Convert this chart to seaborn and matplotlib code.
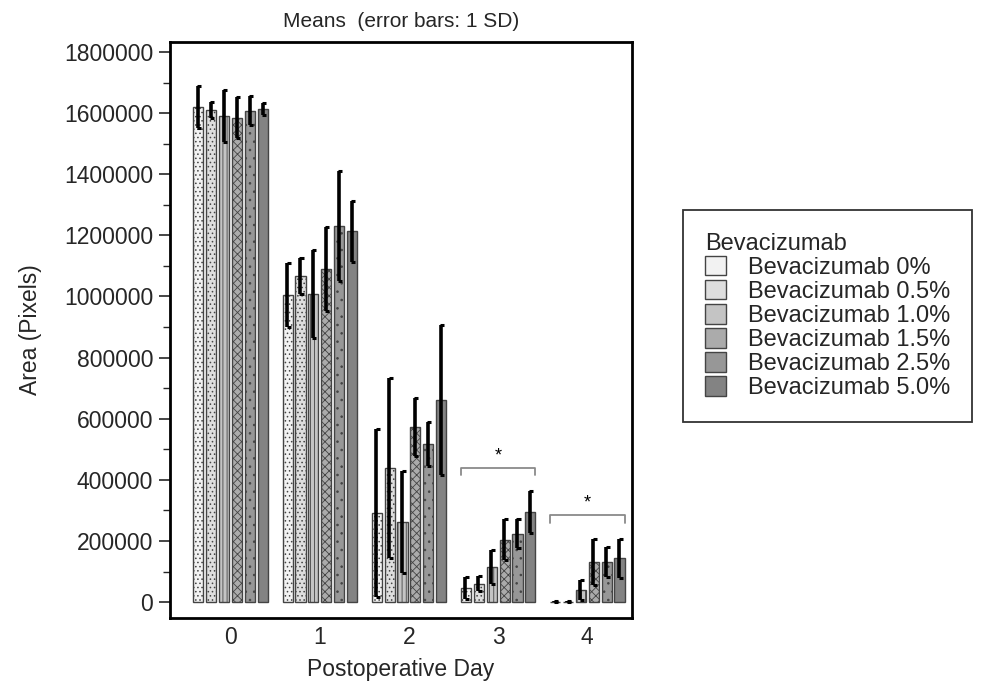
import matplotlib
matplotlib.use("Agg")
import matplotlib.pyplot as plt
import numpy as np
import pandas as pd
import seaborn as sns

# datos
days = ["0", "1", "2", "3", "4"]
groups = ["Bevacizumab 0%", "Bevacizumab 0.5%", "Bevacizumab 1.0%",
          "Bevacizumab 1.5%", "Bevacizumab 2.5%", "Bevacizumab 5.0%"]

means = {
    "Bevacizumab 0%":   [1620000, 1005000, 291000, 46000, 0],
    "Bevacizumab 0.5%": [1610000, 1067000, 439000, 60000, 0],
    "Bevacizumab 1.0%": [1590000, 1008000, 263000, 115000, 39000],
    "Bevacizumab 1.5%": [1585000, 1090000, 573000, 205000, 131000],
    "Bevacizumab 2.5%": [1608000, 1232000, 517000, 224000, 131000],
    "Bevacizumab 5.0%": [1613000, 1214000, 661000, 295000, 143000],
}
sds = {
    "Bevacizumab 0%":   [70000, 105000, 275000, 36000, 4000],
    "Bevacizumab 0.5%": [25000, 60000, 295000, 25000, 4000],
    "Bevacizumab 1.0%": [85000, 145000, 167000, 57000, 33000],
    "Bevacizumab 1.5%": [68000, 137000, 95000, 67000, 75000],
    "Bevacizumab 2.5%": [48000, 180000, 73000, 48000, 49000],
    "Bevacizumab 5.0%": [20000, 100000, 245000, 68000, 63000],
}

# comparaciones significativas: (día, altura del corchete)
sig_days = ["3", "4"]
sig_heights = [440000, 285000]

colors = ["#f2f2f2", "#dedede", "#c4c4c4", "#ababab", "#979797", "#838383"]
hatches = ["....", "....", "||||", "xxxx", "..", ""]

rows = []
for g in groups:
    for d, m, s in zip(days, means[g], sds[g]):
        rows.append({"Day": d, "Group": g, "Mean": m, "SD": s})
df = pd.DataFrame(rows)

sns.set_style("white")
plt.rcParams["font.family"] = ["Liberation Sans", "DejaVu Sans"]
plt.rcParams["hatch.color"] = "#ffffff"
plt.rcParams["hatch.linewidth"] = 0.6

fig = plt.figure(figsize=(9.81, 6.86), dpi=100)
ax = fig.add_axes([0.173, 0.099, 0.471, 0.840])

sns.barplot(data=df, x="Day", y="Mean", hue="Group", order=days, hue_order=groups,
            palette=colors, errorbar=None, width=0.87, gap=0.22,
            edgecolor="#444444", linewidth=1.0, ax=ax)

for cont, h, g in zip(ax.containers, hatches, groups):
    sub = df[df["Group"] == g].set_index("Day").loc[days]
    for bar, m, s in zip(cont.patches, sub["Mean"], sub["SD"]):
        bar.set_hatch(h)
        if s <= 0:
            continue
        w = bar.get_width()
        xc = bar.get_x() + w * 0.45
        ax.plot([xc, xc], [max(m - s, 0), m + s], color="black", lw=2.6,
                solid_capstyle="butt", zorder=5)
        for yy in (max(m - s, 0), m + s):
            ax.plot([xc - w * 0.05, xc + w * 0.35], [yy, yy], color="black",
                    lw=2.2, solid_capstyle="butt", zorder=5)

# corchetes de significancia
for d, hgt in zip(sig_days, sig_heights):
    i = days.index(d)
    x0 = ax.containers[0].patches[i].get_x()
    last = ax.containers[-1].patches[i]
    x1 = last.get_x() + last.get_width()
    ax.plot([x0, x0, x1, x1], [hgt - 25000, hgt, hgt, hgt - 25000],
            color="#8a8a8a", lw=1.3, zorder=4)
    ax.text((x0 + x1) / 2, hgt + 12000, "*", ha="center", va="bottom",
            fontsize=13, color="black")

ax.set_ylim(-52000, 1833000)
ax.set_xlim(-0.685, 4.5)
ax.set_yticks(np.arange(0, 1800001, 200000))
ax.set_yticks(np.arange(100000, 1800000, 200000), minor=True)
ax.set_yticklabels([str(v) for v in range(0, 1800001, 200000)])
ax.tick_params(axis="y", which="major", direction="out", length=8, width=1.2,
               labelsize=16.5, left=True, pad=4)
ax.tick_params(axis="y", which="minor", direction="out", length=5, width=1.0, left=True)
ax.tick_params(axis="x", length=0, labelsize=16.5, pad=6)

for sp in ax.spines.values():
    sp.set_color("black")
    sp.set_linewidth(2.0)

ax.set_xlabel("Postoperative Day", fontsize=16.5, labelpad=6)
ax.set_ylabel("Area (Pixels)", fontsize=16.5, labelpad=16)
ax.set_title("Means  (error bars: 1 SD)", fontsize=15, pad=11)

leg = ax.legend(title="Bevacizumab", loc="upper left", bbox_to_anchor=(1.110, 0.708),
                borderaxespad=0, fontsize=17, title_fontsize=17, frameon=True,
                fancybox=False, edgecolor="black", handlelength=0.9, handleheight=0.9,
                handletextpad=0.9, labelspacing=0.05, borderpad=0.95,
                alignment="left")
leg.get_frame().set_linewidth(1.3)

fig.savefig("out.png", dpi=100)
